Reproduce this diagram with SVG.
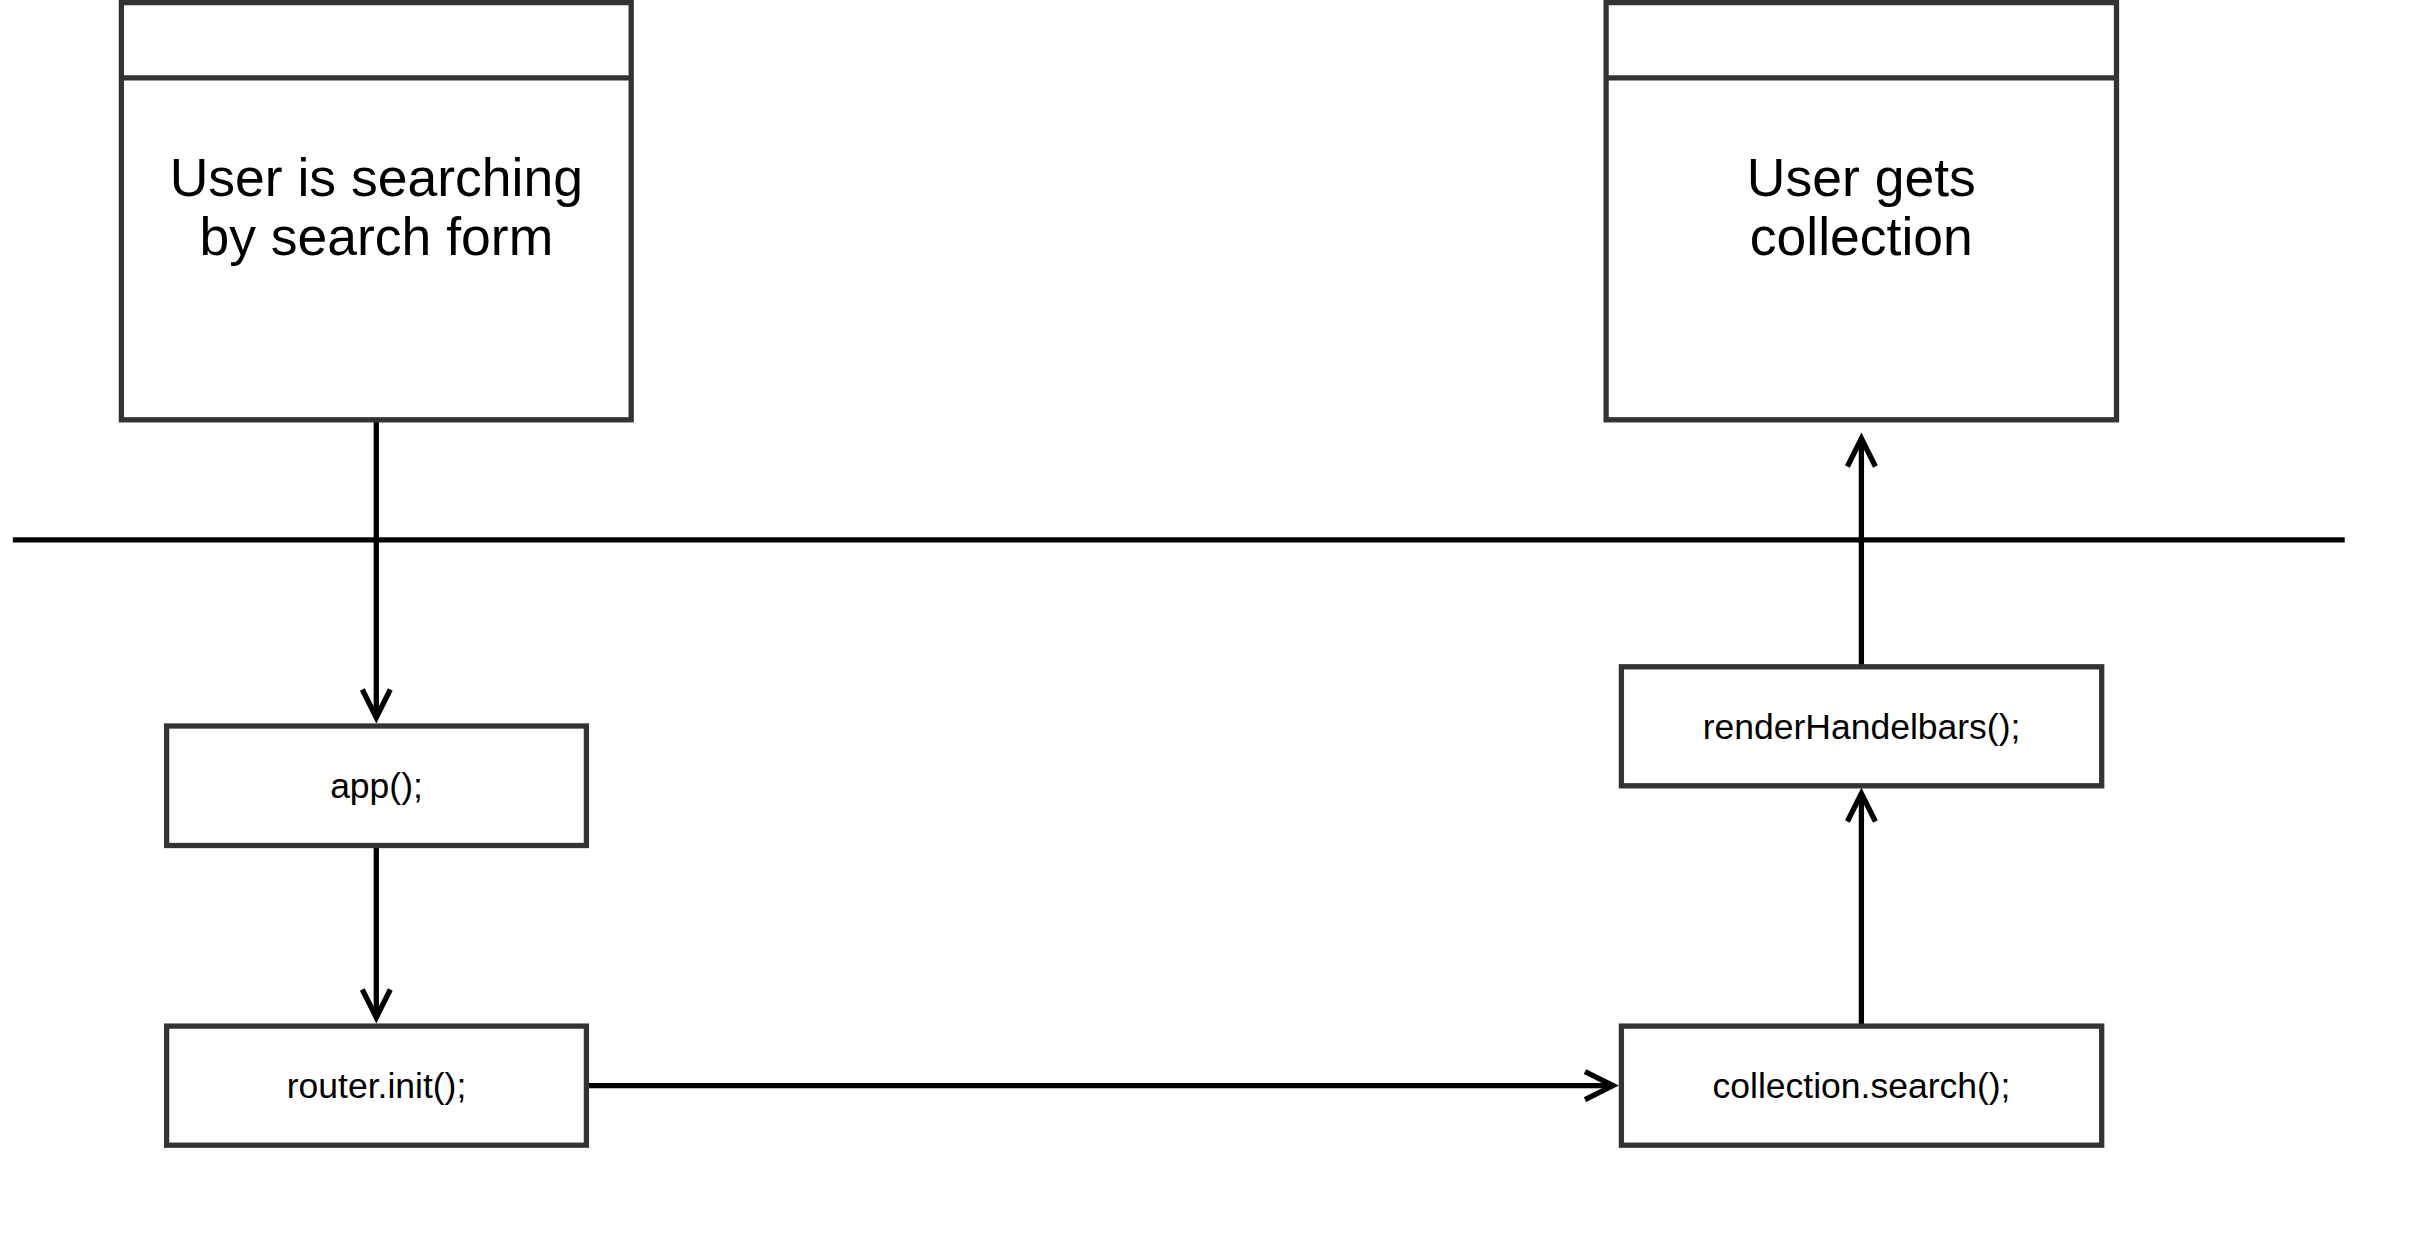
<svg xmlns="http://www.w3.org/2000/svg" width="2418" height="1236" viewBox="0 0 2418 1236">
<defs>
<style>
.box{fill:#fff;stroke:#333;stroke-width:5.3}
.div{fill:none;stroke:#333;stroke-width:5.3}
.con{fill:none;stroke:#000;stroke-width:5.3}
.big{font-family:"Liberation Sans",Arial,Helvetica,sans-serif;font-size:53.5px;fill:#000;text-anchor:middle}
.sm{font-family:"Liberation Sans",Arial,Helvetica,sans-serif;font-size:35.5px;fill:#000;text-anchor:middle}
</style>
<marker id="arr" markerUnits="userSpaceOnUse" markerWidth="60" markerHeight="60" viewBox="-40 -30 60 60" refX="0" refY="0" orient="auto" overflow="visible">
<path d="M-28,-14 L0,0 L-28,14" fill="none" stroke="#000" stroke-width="5.3"/>
</marker>
</defs>
<rect width="2418" height="1236" fill="#fff"/>
<g id="connectors">
<line class="con" x1="12.8" y1="539.8" x2="2344.7" y2="539.8"/>
<line class="con" x1="376.3" y1="419.8" x2="376.3" y2="717.5" marker-end="url(#arr)"/>
<line class="con" x1="376.3" y1="845.5" x2="376.3" y2="1017.5" marker-end="url(#arr)"/>
<line class="con" x1="586.4" y1="1085.6" x2="1613" y2="1085.6" marker-end="url(#arr)"/>
<line class="con" x1="1861.4" y1="1026.1" x2="1861.4" y2="793.5" marker-end="url(#arr)"/>
<line class="con" x1="1861.4" y1="666.8" x2="1861.4" y2="438.5" marker-end="url(#arr)"/>
</g>
<g id="user-searching">
<rect class="box" x="121.4" y="2.6" width="509.8" height="417.2"/>
<line class="div" x1="121.4" y1="77.9" x2="631.2" y2="77.9"/>
<text class="big" x="376.3" y="196">User is searching</text>
<text class="big" x="376.3" y="254.5">by search form</text>
</g>
<g id="user-gets">
<rect class="box" x="1606.1" y="2.6" width="510.4" height="417.2"/>
<line class="div" x1="1606.1" y1="77.9" x2="2116.5" y2="77.9"/>
<text class="big" x="1861.3" y="196">User gets</text>
<text class="big" x="1861.3" y="254.5">collection</text>
</g>
<g id="app">
<rect class="box" x="166.6" y="726" width="419.8" height="119.5"/>
<text class="sm" x="376.5" y="798">app();</text>
</g>
<g id="router-init">
<rect class="box" x="166.6" y="1026.1" width="419.8" height="119.1"/>
<text class="sm" x="376.5" y="1098">router.init();</text>
</g>
<g id="render-handelbars">
<rect class="box" x="1621.4" y="666.8" width="480.3" height="119"/>
<text class="sm" x="1861.5" y="738.6">renderHandelbars();</text>
</g>
<g id="collection-search">
<rect class="box" x="1621.4" y="1026.1" width="480.3" height="119.1"/>
<text class="sm" x="1861.5" y="1098">collection.search();</text>
</g>
</svg>
